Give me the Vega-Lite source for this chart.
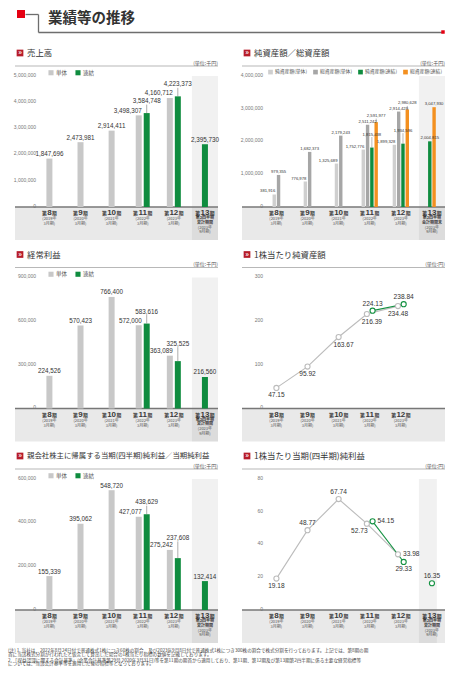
{
"$schema":"https://vega.github.io/schema/vega-lite/v6.json",
"padding":{"left":8,"top":10,"right":5,"bottom":5},
"config":{
 "font":"Noto Sans CJK JP",
 "view":{"stroke":null},
 "axisY":{"labels":false,"ticks":false,"tickSize":0,"domain":false,"grid":true,"gridColor":"#9a9a9a","gridDash":[1,1.4],"gridWidth":0.6},
 "style":{
  "ylab":{"font":"Liberation Sans","fontSize":5,"color":"#777","align":"right","baseline":"bottom","dx":-13.4,"dy":1.8},
  "vlab":{"font":"Liberation Sans","fontSize":6.3,"color":"#333","align":"center","baseline":"alphabetic"},
  "vlab2":{"font":"Liberation Sans","fontSize":4.2,"color":"#333","align":"center","baseline":"alphabetic"},
  "llab":{"font":"Liberation Sans","fontSize":6.6,"color":"#333","align":"center"},
  "pnum":{"font":"Liberation Sans","fontSize":8,"fontWeight":"bold","color":"#3a3a3a","align":"center","baseline":"alphabetic","dy":8.2},
  "pk":{"fontSize":4.8,"fontWeight":"bold","color":"#3a3a3a","baseline":"alphabetic","dy":8.2},
  "pyr":{"fontSize":4,"color":"#555","align":"center","baseline":"middle","lineHeight":4.7,"dy":12.4},
  "psub":{"fontSize":4,"fontWeight":"bold","color":"#3a3a3a","align":"center","baseline":"middle","lineHeight":4.6,"dy":11.3},
  "head":{"fontSize":8.4,"color":"#333","align":"left","baseline":"middle","dx":-22.4,"dy":-23},
  "unit":{"fontSize":5,"color":"#555","align":"right","baseline":"middle","dx":13,"dy":-13.5}
 }
},
"datasets":{
 "periods":[
  {"p":"8","yr":["(2019年","3月期)"]},
  {"p":"9","yr":["(2020年","3月期)"]},
  {"p":"10","yr":["(2021年","3月期)"]},
  {"p":"11","yr":["(2022年","3月期)"]},
  {"p":"12","yr":["(2023年","3月期)"]},
  {"p":"13","yr":["(2023年","9月期)"]}
 ]
},
"bounds":"flush","spacing":44,
"resolve":{"scale":{"x":"independent","y":"independent","color":"independent","xOffset":"independent"},"legend":{"color":"independent"}},
"vconcat":[
 {
  "width":428,"height":18,
  "data":{"values":[{}]},
  "layer":[
   {"mark":{"type":"point","shape":"square","filled":true,"color":"#e50012","size":64,"opacity":1},
    "encoding":{
     "x":{"datum":-0.042,"type":"quantitative","scale":{"domain":[0,1],"range":[23,428]},"axis":{"orient":"bottom","domain":true,"domainColor":"#6e6e6e","domainWidth":1.3,"ticks":false,"labels":false,"grid":false,"title":null}},
     "y":{"datum":1,"type":"quantitative","scale":{"domain":[0,1]},"axis":{"orient":"left","offset":-23,"values":[1],"ticks":true,"tickSize":13,"tickColor":"#6e6e6e","tickWidth":1.3,"domain":true,"domainColor":"#6e6e6e","domainWidth":1.3,"labels":false,"grid":false,"title":null}}}},
   {"mark":{"type":"point","shape":"square","filled":true,"color":"#e50012","size":12,"opacity":1},
    "encoding":{"x":{"datum":1,"type":"quantitative"},"y":{"datum":0,"type":"quantitative"}}},
   {"mark":{"type":"text","align":"left","baseline":"middle","fontSize":14.5,"fontWeight":"bold","color":"#333","dx":10},
    "encoding":{"x":{"datum":0,"type":"quantitative"},"y":{"datum":0.75,"type":"quantitative"},"text":{"value":"業績等の推移"}}}
  ]
 },
 {"columns":2,"bounds":"flush","spacing":{"row":37.5,"column":24},
  "resolve":{"scale":{"x":"independent","y":"independent","color":"independent","xOffset":"independent"},"legend":{"color":"independent"}},
  "title":{"text":["(注)\u00a01.\u00a0当社は、2022年8月24日付で普通株式1株につき60株の割合、及び2023年9月8日付で普通株式1株につき300株の割合で株式分割を行っております。上記では、第8期の期","\u3000\u3000\u3000\u00a0首に当該株式分割が行われたと仮定して算出した場合の1株当たり指標の数値を記載しております。"],
   "subtitle":["\u3000\u3000\u00a0\u00a02.\u00a0「収益認識に関する会計基準」(企業会計基準第29号 2020年3月31日)等を第11期の期首から適用しており、第11期、第12期及び第13期第2四半期に係る主要な経営指標等","\u3000\u3000\u3000\u3000については、当該会計基準等を適用した後の指標等となっております。"],
   "orient":"bottom","anchor":"start","frame":"group","offset":5,"dx":-7,"fontSize":4.6,"lineHeight":3.8,"fontWeight":"normal","color":"#444","subtitleFontSize":4.6,"subtitleLineHeight":3.8,"subtitleColor":"#444","subtitlePadding":1.2},
  "concat":[
    {
     "width":203,"height":164,
     "data":{"values":[{}]},
     "layer":[
      {"mark":{"type":"rect","color":"#e9e9e9"},"encoding":{"y":{"datum":-1259542,"type":"quantitative","scale":{"domain":[-1259542,5000000],"nice":false,"zero":false},"axis":{"values":[0,1000000,2000000,3000000,4000000,5000000],"title":null}},"y2":{"datum":0}}},
      {"mark":{"type":"rect","color":"#000","opacity":0.055},"encoding":{"x":{"datum":"13","type":"nominal","scale":{"domain":["8","9","10","11","12","13"],"paddingInner":0.16,"paddingOuter":0.343,"align":1},"axis":null},"y":{"datum":-1259542},"y2":{"datum":5000000}}},
      {"mark":{"type":"rule","color":"#777","strokeWidth":1.4},"encoding":{"y":{"datum":0}}},
      {"mark":{"type":"rule","color":"#b8b8b8","strokeWidth":1.2,"yOffset":-10},"encoding":{"y":{"datum":5000000}}},
      {"mark":{"type":"point","shape":"square","filled":true,"color":"#b71c2a","size":45,"opacity":1,"xOffset":-29.4,"yOffset":-23},"encoding":{"x":{"datum":"8","type":"nominal","axis":null},"y":{"datum":5000000}}},
      {"mark":{"type":"text","color":"white","fontSize":7,"fontWeight":"bold","dx":-29.4,"dy":-23,"baseline":"middle","align":"center"},"encoding":{"x":{"datum":"8","type":"nominal","axis":null},"y":{"datum":5000000},"text":{"value":"»"}}},
      {"mark":{"type":"text","style":"head"},"encoding":{"x":{"datum":"8","type":"nominal","axis":null},"y":{"datum":5000000},"text":{"value":"売上高"}}},
      {"mark":{"type":"text","style":"unit"},"encoding":{"x":{"datum":"13","type":"nominal","axis":null},"y":{"datum":5000000},"text":{"value":"(単位:千円)"}}},
      {"mark":{"type":"text","style":"psub"},"encoding":{"x":{"datum":"13","type":"nominal","axis":null},"y":{"datum":0},"text":{"value":["第2四半期","累計期間"]}}},
      {"data":{"values":[{"t":0},{"t":1000000},{"t":2000000},{"t":3000000},{"t":4000000},{"t":5000000}]},"mark":{"type":"text","style":"ylab"},"encoding":{"x":{"datum":"8","type":"nominal","axis":null},"y":{"field":"t","type":"quantitative","axis":null},"text":{"field":"t","format":",d"}}},
      {"data":{"name":"periods"},"layer":[
       {"mark":{"type":"text","style":"pnum"},"encoding":{"x":{"field":"p","type":"nominal","axis":null},"y":{"datum":0},"text":{"field":"p"}}},
       {"transform":[{"filter":"length(datum.p)==1"}],"mark":{"type":"text","style":"pk","align":"right","dx":-2.6},"encoding":{"x":{"field":"p","type":"nominal","axis":null},"y":{"datum":0},"text":{"value":"第"}}},
       {"transform":[{"filter":"length(datum.p)==1"}],"mark":{"type":"text","style":"pk","align":"left","dx":2.6},"encoding":{"x":{"field":"p","type":"nominal","axis":null},"y":{"datum":0},"text":{"value":"期"}}},
       {"transform":[{"filter":"length(datum.p)==2"}],"mark":{"type":"text","style":"pk","align":"right","dx":-4.8},"encoding":{"x":{"field":"p","type":"nominal","axis":null},"y":{"datum":0},"text":{"value":"第"}}},
       {"transform":[{"filter":"length(datum.p)==2"}],"mark":{"type":"text","style":"pk","align":"left","dx":4.8},"encoding":{"x":{"field":"p","type":"nominal","axis":null},"y":{"datum":0},"text":{"value":"期"}}},
       {"transform":[{"filter":"datum.p!='13'"}],"mark":{"type":"text","style":"pyr"},"encoding":{"x":{"field":"p","type":"nominal","axis":null},"y":{"datum":0},"text":{"field":"yr"}}},
       {"transform":[{"filter":"datum.p=='13'"}],"mark":{"type":"text","style":"pyr","dy":20.6},"encoding":{"x":{"field":"p","type":"nominal","axis":null},"y":{"datum":0},"text":{"field":"yr"}}}
      ]},
      {"data":{"values":[
        {"p":"8","s":"単体","v":1847696},{"p":"9","s":"単体","v":2473981},{"p":"10","s":"単体","v":2914411},
        {"p":"11","s":"単体","v":3498307},{"p":"11","s":"連結","v":3584748},
        {"p":"12","s":"単体","v":4160712},{"p":"12","s":"連結","v":4223373},
        {"p":"13","s":"連結","v":2395730}]},
       "transform":[
        {"calculate":"indexof(['単体','連結'],datum.s)","as":"o"},
        {"joinaggregate":[{"op":"count","as":"cnt"},{"op":"max","field":"v","as":"top"}],"groupby":["p"]},
        {"window":[{"op":"row_number","as":"r"}],"sort":[{"field":"o"}],"groupby":["p"]},
        {"calculate":"toString(datum.r-1-(datum.cnt-1)/2)","as":"slot"}],
       "layer":[
        {"mark":{"type":"bar","size":6},"encoding":{"x":{"field":"p","type":"nominal","axis":null},"xOffset":{"field":"slot","type":"nominal","scale":{"domain":["-1.5","-1","-0.5","0","0.5","1","1.5"],"range":[-0.94,27.06]}},"y":{"field":"v","type":"quantitative"},
          "color":{"field":"s","type":"nominal","scale":{"domain":["単体","連結"],"range":["#c8c8c8","#0f8c3f"]},"legend":{"orient":"none","legendX":33,"legendY":-6.5,"direction":"horizontal","title":null,"symbolType":"square","symbolSize":26,"symbolStrokeWidth":0,"labelFontSize":5.5,"labelColor":"#555","columnPadding":7,"labelOffset":2,"padding":0}}}},
        {"transform":[{"filter":"datum.cnt==1"}],"mark":{"type":"text","style":"vlab","dy":-2.5},"encoding":{"x":{"field":"p","type":"nominal","axis":null},"xOffset":{"field":"slot","type":"nominal"},"y":{"field":"v","type":"quantitative"},"text":{"field":"v","format":",d"}}},
        {"transform":[{"filter":"datum.cnt==2&&datum.s=='単体'"}],"mark":{"type":"text","style":"vlab","align":"right","dx":3,"dy":-2.5},"encoding":{"x":{"field":"p","type":"nominal","axis":null},"xOffset":{"field":"slot","type":"nominal"},"y":{"field":"v","type":"quantitative"},"text":{"field":"v","format":",d"}}},
        {"transform":[{"filter":"datum.cnt==2&&datum.s=='連結'"}],"mark":{"type":"rule","color":"#777","strokeWidth":0.6,"y2Offset":-8.5},"encoding":{"x":{"field":"p","type":"nominal","axis":null},"xOffset":{"field":"slot","type":"nominal"},"y":{"field":"v","type":"quantitative"},"y2":{"field":"top"}}},
        {"transform":[{"filter":"datum.cnt==2&&datum.s=='連結'"}],"mark":{"type":"text","style":"vlab","dy":-10},"encoding":{"x":{"field":"p","type":"nominal","axis":null},"xOffset":{"field":"slot","type":"nominal"},"y":{"field":"top","type":"quantitative"},"text":{"field":"v","format":",d"}}}
       ]}
     ]
    },
    {
     "width":203,"height":164,
     "data":{"values":[{}]},
     "layer":[
      {"mark":{"type":"rect","color":"#e9e9e9"},"encoding":{"y":{"datum":-1007634,"type":"quantitative","scale":{"domain":[-1007634,4000000],"nice":false,"zero":false},"axis":{"values":[0,1000000,2000000,3000000,4000000],"title":null}},"y2":{"datum":0}}},
      {"mark":{"type":"rect","color":"#000","opacity":0.055},"encoding":{"x":{"datum":"13","type":"nominal","scale":{"domain":["8","9","10","11","12","13"],"paddingInner":0.16,"paddingOuter":0.343,"align":1},"axis":null},"y":{"datum":-1007634},"y2":{"datum":4000000}}},
      {"mark":{"type":"rule","color":"#777","strokeWidth":1.4},"encoding":{"y":{"datum":0}}},
      {"mark":{"type":"rule","color":"#b8b8b8","strokeWidth":1.2,"yOffset":-10},"encoding":{"y":{"datum":4000000}}},
      {"mark":{"type":"point","shape":"square","filled":true,"color":"#b71c2a","size":45,"opacity":1,"xOffset":-29.4,"yOffset":-23},"encoding":{"x":{"datum":"8","type":"nominal","axis":null},"y":{"datum":4000000}}},
      {"mark":{"type":"text","color":"white","fontSize":7,"fontWeight":"bold","dx":-29.4,"dy":-23,"baseline":"middle","align":"center"},"encoding":{"x":{"datum":"8","type":"nominal","axis":null},"y":{"datum":4000000},"text":{"value":"»"}}},
      {"mark":{"type":"text","style":"head"},"encoding":{"x":{"datum":"8","type":"nominal","axis":null},"y":{"datum":4000000},"text":{"value":"純資産額／総資産額"}}},
      {"mark":{"type":"text","style":"unit"},"encoding":{"x":{"datum":"13","type":"nominal","axis":null},"y":{"datum":4000000},"text":{"value":"(単位:千円)"}}},
      {"mark":{"type":"text","style":"psub"},"encoding":{"x":{"datum":"13","type":"nominal","axis":null},"y":{"datum":0},"text":{"value":["第2四半期","会計期間末"]}}},
      {"data":{"values":[{"t":0},{"t":1000000},{"t":2000000},{"t":3000000},{"t":4000000}]},"mark":{"type":"text","style":"ylab"},"encoding":{"x":{"datum":"8","type":"nominal","axis":null},"y":{"field":"t","type":"quantitative","axis":null},"text":{"field":"t","format":",d"}}},
      {"data":{"name":"periods"},"layer":[
       {"mark":{"type":"text","style":"pnum"},"encoding":{"x":{"field":"p","type":"nominal","axis":null},"y":{"datum":0},"text":{"field":"p"}}},
       {"transform":[{"filter":"length(datum.p)==1"}],"mark":{"type":"text","style":"pk","align":"right","dx":-2.6},"encoding":{"x":{"field":"p","type":"nominal","axis":null},"y":{"datum":0},"text":{"value":"第"}}},
       {"transform":[{"filter":"length(datum.p)==1"}],"mark":{"type":"text","style":"pk","align":"left","dx":2.6},"encoding":{"x":{"field":"p","type":"nominal","axis":null},"y":{"datum":0},"text":{"value":"期"}}},
       {"transform":[{"filter":"length(datum.p)==2"}],"mark":{"type":"text","style":"pk","align":"right","dx":-4.8},"encoding":{"x":{"field":"p","type":"nominal","axis":null},"y":{"datum":0},"text":{"value":"第"}}},
       {"transform":[{"filter":"length(datum.p)==2"}],"mark":{"type":"text","style":"pk","align":"left","dx":4.8},"encoding":{"x":{"field":"p","type":"nominal","axis":null},"y":{"datum":0},"text":{"value":"期"}}},
       {"transform":[{"filter":"datum.p!='13'"}],"mark":{"type":"text","style":"pyr"},"encoding":{"x":{"field":"p","type":"nominal","axis":null},"y":{"datum":0},"text":{"field":"yr"}}},
       {"transform":[{"filter":"datum.p=='13'"}],"mark":{"type":"text","style":"pyr","dy":20.6},"encoding":{"x":{"field":"p","type":"nominal","axis":null},"y":{"datum":0},"text":{"field":"yr"}}}
      ]},
      {"data":{"values":[
        {"p":"8","s":"純資産額(単体)","v":381916},{"p":"8","s":"総資産額(単体)","v":979355},
        {"p":"9","s":"純資産額(単体)","v":776978},{"p":"9","s":"総資産額(単体)","v":1682373},
        {"p":"10","s":"純資産額(単体)","v":1325689},{"p":"10","s":"総資産額(単体)","v":2179243},
        {"p":"11","s":"純資産額(単体)","v":1752776},{"p":"11","s":"総資産額(単体)","v":2511242},{"p":"11","s":"純資産額(連結)","v":1815438},{"p":"11","s":"総資産額(連結)","v":2591977},
        {"p":"12","s":"純資産額(単体)","v":1899328},{"p":"12","s":"総資産額(単体)","v":2914429},{"p":"12","s":"純資産額(連結)","v":1934596},{"p":"12","s":"総資産額(連結)","v":2980628},
        {"p":"13","s":"純資産額(連結)","v":2004815},{"p":"13","s":"総資産額(連結)","v":3047930}]},
       "transform":[
        {"calculate":"indexof(['純資産額(単体)','総資産額(単体)','純資産額(連結)','総資産額(連結)'],datum.s)","as":"o"},
        {"calculate":"indexof(datum.s,'純')==0?'n':'t'","as":"kind"},
        {"joinaggregate":[{"op":"count","as":"cnt"}],"groupby":["p"]},
        {"joinaggregate":[{"op":"max","field":"v","as":"ktop"}],"groupby":["p","kind"]},
        {"window":[{"op":"row_number","as":"r"}],"sort":[{"field":"o"}],"groupby":["p"]},
        {"calculate":"toString(datum.r-1-(datum.cnt-1)/2)","as":"slot"}],
       "layer":[
        {"mark":{"type":"bar","size":3.4},"encoding":{"x":{"field":"p","type":"nominal","axis":null},"xOffset":{"field":"slot","type":"nominal","scale":{"domain":["-1.5","-1","-0.5","0","0.5","1","1.5"],"range":[5.54,20.59]}},"y":{"field":"v","type":"quantitative"},
          "color":{"field":"s","type":"nominal","scale":{"domain":["純資産額(単体)","総資産額(単体)","純資産額(連結)","総資産額(連結)"],"range":["#cfcfcf","#a6a6a6","#0f8c3f","#f39020"]},"legend":{"orient":"none","legendX":26,"legendY":-6.5,"direction":"horizontal","title":null,"symbolType":"square","symbolSize":22,"symbolStrokeWidth":0,"labelFontSize":4.8,"labelColor":"#555","columnPadding":5,"labelOffset":2,"padding":0}}}},
        {"transform":[{"filter":"datum.s=='純資産額(単体)'"}],"mark":{"type":"text","style":"vlab2","align":"right","dx":1,"dy":-2},"encoding":{"x":{"field":"p","type":"nominal","axis":null},"xOffset":{"field":"slot","type":"nominal"},"y":{"field":"v","type":"quantitative"},"text":{"field":"v","format":",d"}}},
        {"transform":[{"filter":"datum.s=='総資産額(単体)'"}],"mark":{"type":"text","style":"vlab2","dy":-2},"encoding":{"x":{"field":"p","type":"nominal","axis":null},"xOffset":{"field":"slot","type":"nominal"},"y":{"field":"v","type":"quantitative"},"text":{"field":"v","format":",d"}}},
        {"transform":[{"filter":"datum.cnt==2&&indexof(datum.s,'連結')>0"}],"mark":{"type":"text","style":"vlab2","dy":-2},"encoding":{"x":{"field":"p","type":"nominal","axis":null},"xOffset":{"field":"slot","type":"nominal"},"y":{"field":"v","type":"quantitative"},"text":{"field":"v","format":",d"}}},
        {"transform":[{"filter":"datum.cnt==4&&datum.s=='純資産額(連結)'"}],"mark":{"type":"rule","color":"#777","strokeWidth":0.5,"y2Offset":-10.5},"encoding":{"x":{"field":"p","type":"nominal","axis":null},"xOffset":{"field":"slot","type":"nominal"},"y":{"field":"v","type":"quantitative"},"y2":{"field":"ktop"}}},
        {"transform":[{"filter":"datum.cnt==4&&datum.s=='純資産額(連結)'"}],"mark":{"type":"text","style":"vlab2","dy":-12},"encoding":{"x":{"field":"p","type":"nominal","axis":null},"xOffset":{"field":"slot","type":"nominal"},"y":{"field":"ktop","type":"quantitative"},"text":{"field":"v","format":",d"}}},
        {"transform":[{"filter":"datum.cnt==4&&datum.s=='総資産額(連結)'"}],"mark":{"type":"rule","color":"#777","strokeWidth":0.5,"y2Offset":-3.5},"encoding":{"x":{"field":"p","type":"nominal","axis":null},"xOffset":{"field":"slot","type":"nominal"},"y":{"field":"v","type":"quantitative"},"y2":{"field":"ktop"}}},
        {"transform":[{"filter":"datum.cnt==4&&datum.s=='総資産額(連結)'"}],"mark":{"type":"text","style":"vlab2","dy":-5},"encoding":{"x":{"field":"p","type":"nominal","axis":null},"xOffset":{"field":"slot","type":"nominal"},"y":{"field":"ktop","type":"quantitative"},"text":{"field":"v","format":",d"}}}
       ]}
     ]
    },
    {
     "width":203,"height":164,
     "data":{"values":[{}]},
     "layer":[
      {"mark":{"type":"rect","color":"#e9e9e9"},"encoding":{"y":{"datum":-226718,"type":"quantitative","scale":{"domain":[-226718,900000],"nice":false,"zero":false},"axis":{"values":[0,300000,600000,900000],"title":null}},"y2":{"datum":0}}},
      {"mark":{"type":"rect","color":"#000","opacity":0.055},"encoding":{"x":{"datum":"13","type":"nominal","scale":{"domain":["8","9","10","11","12","13"],"paddingInner":0.16,"paddingOuter":0.343,"align":1},"axis":null},"y":{"datum":-226718},"y2":{"datum":900000}}},
      {"mark":{"type":"rule","color":"#777","strokeWidth":1.4},"encoding":{"y":{"datum":0}}},
      {"mark":{"type":"rule","color":"#b8b8b8","strokeWidth":1.2,"yOffset":-10},"encoding":{"y":{"datum":900000}}},
      {"mark":{"type":"point","shape":"square","filled":true,"color":"#b71c2a","size":45,"opacity":1,"xOffset":-29.4,"yOffset":-23},"encoding":{"x":{"datum":"8","type":"nominal","axis":null},"y":{"datum":900000}}},
      {"mark":{"type":"text","color":"white","fontSize":7,"fontWeight":"bold","dx":-29.4,"dy":-23,"baseline":"middle","align":"center"},"encoding":{"x":{"datum":"8","type":"nominal","axis":null},"y":{"datum":900000},"text":{"value":"»"}}},
      {"mark":{"type":"text","style":"head"},"encoding":{"x":{"datum":"8","type":"nominal","axis":null},"y":{"datum":900000},"text":{"value":"経常利益"}}},
      {"mark":{"type":"text","style":"unit"},"encoding":{"x":{"datum":"13","type":"nominal","axis":null},"y":{"datum":900000},"text":{"value":"(単位:千円)"}}},
      {"mark":{"type":"text","style":"psub"},"encoding":{"x":{"datum":"13","type":"nominal","axis":null},"y":{"datum":0},"text":{"value":["第2四半期","累計期間"]}}},
      {"data":{"values":[{"t":0},{"t":300000},{"t":600000},{"t":900000}]},"mark":{"type":"text","style":"ylab"},"encoding":{"x":{"datum":"8","type":"nominal","axis":null},"y":{"field":"t","type":"quantitative","axis":null},"text":{"field":"t","format":",d"}}},
      {"data":{"name":"periods"},"layer":[
       {"mark":{"type":"text","style":"pnum"},"encoding":{"x":{"field":"p","type":"nominal","axis":null},"y":{"datum":0},"text":{"field":"p"}}},
       {"transform":[{"filter":"length(datum.p)==1"}],"mark":{"type":"text","style":"pk","align":"right","dx":-2.6},"encoding":{"x":{"field":"p","type":"nominal","axis":null},"y":{"datum":0},"text":{"value":"第"}}},
       {"transform":[{"filter":"length(datum.p)==1"}],"mark":{"type":"text","style":"pk","align":"left","dx":2.6},"encoding":{"x":{"field":"p","type":"nominal","axis":null},"y":{"datum":0},"text":{"value":"期"}}},
       {"transform":[{"filter":"length(datum.p)==2"}],"mark":{"type":"text","style":"pk","align":"right","dx":-4.8},"encoding":{"x":{"field":"p","type":"nominal","axis":null},"y":{"datum":0},"text":{"value":"第"}}},
       {"transform":[{"filter":"length(datum.p)==2"}],"mark":{"type":"text","style":"pk","align":"left","dx":4.8},"encoding":{"x":{"field":"p","type":"nominal","axis":null},"y":{"datum":0},"text":{"value":"期"}}},
       {"transform":[{"filter":"datum.p!='13'"}],"mark":{"type":"text","style":"pyr"},"encoding":{"x":{"field":"p","type":"nominal","axis":null},"y":{"datum":0},"text":{"field":"yr"}}},
       {"transform":[{"filter":"datum.p=='13'"}],"mark":{"type":"text","style":"pyr","dy":20.6},"encoding":{"x":{"field":"p","type":"nominal","axis":null},"y":{"datum":0},"text":{"field":"yr"}}}
      ]},
      {"data":{"values":[
        {"p":"8","s":"単体","v":224526},{"p":"9","s":"単体","v":570423},{"p":"10","s":"単体","v":766400},
        {"p":"11","s":"単体","v":572000},{"p":"11","s":"連結","v":583616},
        {"p":"12","s":"単体","v":363089},{"p":"12","s":"連結","v":325525},
        {"p":"13","s":"連結","v":216560}]},
       "transform":[
        {"calculate":"indexof(['単体','連結'],datum.s)","as":"o"},
        {"joinaggregate":[{"op":"count","as":"cnt"},{"op":"max","field":"v","as":"top"}],"groupby":["p"]},
        {"window":[{"op":"row_number","as":"r"}],"sort":[{"field":"o"}],"groupby":["p"]},
        {"calculate":"toString(datum.r-1-(datum.cnt-1)/2)","as":"slot"}],
       "layer":[
        {"mark":{"type":"bar","size":6},"encoding":{"x":{"field":"p","type":"nominal","axis":null},"xOffset":{"field":"slot","type":"nominal","scale":{"domain":["-1.5","-1","-0.5","0","0.5","1","1.5"],"range":[-0.94,27.06]}},"y":{"field":"v","type":"quantitative"},
          "color":{"field":"s","type":"nominal","scale":{"domain":["単体","連結"],"range":["#c8c8c8","#0f8c3f"]},"legend":{"orient":"none","legendX":33,"legendY":-6.5,"direction":"horizontal","title":null,"symbolType":"square","symbolSize":26,"symbolStrokeWidth":0,"labelFontSize":5.5,"labelColor":"#555","columnPadding":7,"labelOffset":2,"padding":0}}}},
        {"transform":[{"filter":"datum.cnt==1"}],"mark":{"type":"text","style":"vlab","dy":-2.5},"encoding":{"x":{"field":"p","type":"nominal","axis":null},"xOffset":{"field":"slot","type":"nominal"},"y":{"field":"v","type":"quantitative"},"text":{"field":"v","format":",d"}}},
        {"transform":[{"filter":"datum.cnt==2&&datum.s=='単体'"}],"mark":{"type":"text","style":"vlab","align":"right","dx":3,"dy":-2.5},"encoding":{"x":{"field":"p","type":"nominal","axis":null},"xOffset":{"field":"slot","type":"nominal"},"y":{"field":"v","type":"quantitative"},"text":{"field":"v","format":",d"}}},
        {"transform":[{"filter":"datum.cnt==2&&datum.s=='連結'"}],"mark":{"type":"rule","color":"#777","strokeWidth":0.6,"y2Offset":-8.5},"encoding":{"x":{"field":"p","type":"nominal","axis":null},"xOffset":{"field":"slot","type":"nominal"},"y":{"field":"v","type":"quantitative"},"y2":{"field":"top"}}},
        {"transform":[{"filter":"datum.cnt==2&&datum.s=='連結'"}],"mark":{"type":"text","style":"vlab","dy":-10},"encoding":{"x":{"field":"p","type":"nominal","axis":null},"xOffset":{"field":"slot","type":"nominal"},"y":{"field":"top","type":"quantitative"},"text":{"field":"v","format":",d"}}}
       ]}
     ]
    },
    {
     "width":203,"height":164,
     "data":{"values":[{}]},
     "layer":[
      {"mark":{"type":"rect","color":"#e9e9e9"},"encoding":{"y":{"datum":-75.57,"type":"quantitative","scale":{"domain":[-75.57,300],"nice":false,"zero":false},"axis":{"values":[0,100,200,300],"title":null}},"y2":{"datum":0}}},
      {"mark":{"type":"rule","color":"#777","strokeWidth":1.4},"encoding":{"y":{"datum":0}}},
      {"mark":{"type":"rule","color":"#b8b8b8","strokeWidth":1.2,"yOffset":-10},"encoding":{"y":{"datum":300}}},
      {"mark":{"type":"point","shape":"square","filled":true,"color":"#b71c2a","size":45,"opacity":1,"xOffset":-29.4,"yOffset":-23},"encoding":{"x":{"datum":"8","type":"nominal","scale":{"domain":["8","9","10","11","12","13"],"paddingInner":0.16,"paddingOuter":0.343,"align":1},"axis":null},"y":{"datum":300}}},
      {"mark":{"type":"text","color":"white","fontSize":7,"fontWeight":"bold","dx":-29.4,"dy":-23,"baseline":"middle","align":"center"},"encoding":{"x":{"datum":"8","type":"nominal","axis":null},"y":{"datum":300},"text":{"value":"»"}}},
      {"mark":{"type":"text","style":"head"},"encoding":{"x":{"datum":"8","type":"nominal","axis":null},"y":{"datum":300},"text":{"value":"1株当たり純資産額"}}},
      {"mark":{"type":"text","style":"unit"},"encoding":{"x":{"datum":"13","type":"nominal","axis":null},"y":{"datum":300},"text":{"value":"(単位:円)"}}},
      {"data":{"values":[{"t":0},{"t":100},{"t":200},{"t":300}]},"mark":{"type":"text","style":"ylab"},"encoding":{"x":{"datum":"8","type":"nominal","axis":null},"y":{"field":"t","type":"quantitative","axis":null},"text":{"field":"t","format":"d"}}},
      {"data":{"name":"periods"},"transform":[{"filter":"datum.p!='13'"}],"layer":[
       {"mark":{"type":"text","style":"pnum"},"encoding":{"x":{"field":"p","type":"nominal","axis":null},"y":{"datum":0},"text":{"field":"p"}}},
       {"transform":[{"filter":"length(datum.p)==1"}],"mark":{"type":"text","style":"pk","align":"right","dx":-2.6},"encoding":{"x":{"field":"p","type":"nominal","axis":null},"y":{"datum":0},"text":{"value":"第"}}},
       {"transform":[{"filter":"length(datum.p)==1"}],"mark":{"type":"text","style":"pk","align":"left","dx":2.6},"encoding":{"x":{"field":"p","type":"nominal","axis":null},"y":{"datum":0},"text":{"value":"期"}}},
       {"transform":[{"filter":"length(datum.p)==2"}],"mark":{"type":"text","style":"pk","align":"right","dx":-4.8},"encoding":{"x":{"field":"p","type":"nominal","axis":null},"y":{"datum":0},"text":{"value":"第"}}},
       {"transform":[{"filter":"length(datum.p)==2"}],"mark":{"type":"text","style":"pk","align":"left","dx":4.8},"encoding":{"x":{"field":"p","type":"nominal","axis":null},"y":{"datum":0},"text":{"value":"期"}}},
       {"mark":{"type":"text","style":"pyr"},"encoding":{"x":{"field":"p","type":"nominal","axis":null},"y":{"datum":0},"text":{"field":"yr"}}}
      ]},
      {"data":{"values":[
        {"p":"8","s":"単体","v":47.15},{"p":"9","s":"単体","v":95.92},{"p":"10","s":"単体","v":163.67},
        {"p":"11","s":"単体","v":216.39},{"p":"12","s":"単体","v":234.48},
        {"p":"11","s":"連結","v":224.13},{"p":"12","s":"連結","v":238.84}]},
       "transform":[
        {"calculate":"indexof(['単体','連結'],datum.s)","as":"o"},
        {"calculate":"toNumber(datum.p)","as":"k"},
        {"joinaggregate":[{"op":"count","as":"cnt"}],"groupby":["p"]},
        {"window":[{"op":"row_number","as":"r"}],"sort":[{"field":"o"}],"groupby":["p"]},
        {"calculate":"toString(datum.r-1-(datum.cnt-1)/2)","as":"slot"}],
       "layer":[
        {"mark":{"type":"line","strokeWidth":1.1},"encoding":{"x":{"field":"p","type":"nominal","axis":null},"xOffset":{"field":"slot","type":"nominal","scale":{"domain":["-1.5","-1","-0.5","0","0.5","1","1.5"],"range":[3.09,23.04]}},"y":{"field":"v","type":"quantitative"},"order":{"field":"k","type":"quantitative"},
          "color":{"field":"s","type":"nominal","scale":{"domain":["単体","連結"],"range":["#bcbcbc","#139141"]},"legend":null}}},
        {"mark":{"type":"point","filled":false,"fill":"white","size":26,"strokeWidth":1.1,"opacity":1},"encoding":{"x":{"field":"p","type":"nominal","axis":null},"xOffset":{"field":"slot","type":"nominal"},"y":{"field":"v","type":"quantitative"},
          "color":{"field":"s","type":"nominal","legend":{"orient":"none","legendX":25,"legendY":-8,"direction":"horizontal","title":null,"symbolType":"M-1,0H-0.4M0.4,0H1M-0.4,0A0.4,0.4 0 1,1 0.4,0A0.4,0.4 0 1,1 -0.4,0","symbolSize":100,"symbolStrokeWidth":1,"symbolFillColor":"white","labelFontSize":5.5,"labelColor":"#555","columnPadding":8,"labelOffset":2,"padding":0}}}},
        {"transform":[{"filter":"datum.s=='単体'&&(datum.p=='8'||datum.p=='9'||datum.p=='12')"}],"mark":{"type":"text","style":"llab","baseline":"top","dy":4.5},"encoding":{"x":{"field":"p","type":"nominal","axis":null},"xOffset":{"field":"slot","type":"nominal"},"y":{"field":"v","type":"quantitative"},"text":{"field":"v","format":".2f"}}},
        {"transform":[{"filter":"datum.s=='単体'&&(datum.p=='10'||datum.p=='11')"}],"mark":{"type":"text","style":"llab","baseline":"top","dy":4.5,"dx":5},"encoding":{"x":{"field":"p","type":"nominal","axis":null},"xOffset":{"field":"slot","type":"nominal"},"y":{"field":"v","type":"quantitative"},"text":{"field":"v","format":".2f"}}},
        {"transform":[{"filter":"datum.s=='連結'"}],"mark":{"type":"text","style":"llab","baseline":"alphabetic","dy":-5},"encoding":{"x":{"field":"p","type":"nominal","axis":null},"xOffset":{"field":"slot","type":"nominal"},"y":{"field":"v","type":"quantitative"},"text":{"field":"v","format":".2f"}}}
       ]}
     ]
    },
    {
     "width":203,"height":164,
     "data":{"values":[{}]},
     "layer":[
      {"mark":{"type":"rect","color":"#e9e9e9"},"encoding":{"y":{"datum":-151145,"type":"quantitative","scale":{"domain":[-151145,600000],"nice":false,"zero":false},"axis":{"values":[0,200000,400000,600000],"title":null}},"y2":{"datum":0}}},
      {"mark":{"type":"rect","color":"#000","opacity":0.055},"encoding":{"x":{"datum":"13","type":"nominal","scale":{"domain":["8","9","10","11","12","13"],"paddingInner":0.16,"paddingOuter":0.343,"align":1},"axis":null},"y":{"datum":-151145},"y2":{"datum":600000}}},
      {"mark":{"type":"rule","color":"#777","strokeWidth":1.4},"encoding":{"y":{"datum":0}}},
      {"mark":{"type":"rule","color":"#b8b8b8","strokeWidth":1.2,"yOffset":-10},"encoding":{"y":{"datum":600000}}},
      {"mark":{"type":"point","shape":"square","filled":true,"color":"#b71c2a","size":45,"opacity":1,"xOffset":-29.4,"yOffset":-23},"encoding":{"x":{"datum":"8","type":"nominal","axis":null},"y":{"datum":600000}}},
      {"mark":{"type":"text","color":"white","fontSize":7,"fontWeight":"bold","dx":-29.4,"dy":-23,"baseline":"middle","align":"center"},"encoding":{"x":{"datum":"8","type":"nominal","axis":null},"y":{"datum":600000},"text":{"value":"»"}}},
      {"mark":{"type":"text","style":"head","fontSize":7.4},"encoding":{"x":{"datum":"8","type":"nominal","axis":null},"y":{"datum":600000},"text":{"value":"親会社株主に帰属する当期(四半期)純利益／当期純利益"}}},
      {"mark":{"type":"text","style":"unit"},"encoding":{"x":{"datum":"13","type":"nominal","axis":null},"y":{"datum":600000},"text":{"value":"(単位:千円)"}}},
      {"mark":{"type":"text","style":"psub"},"encoding":{"x":{"datum":"13","type":"nominal","axis":null},"y":{"datum":0},"text":{"value":["第2四半期","累計期間"]}}},
      {"data":{"values":[{"t":0},{"t":200000},{"t":400000},{"t":600000}]},"mark":{"type":"text","style":"ylab"},"encoding":{"x":{"datum":"8","type":"nominal","axis":null},"y":{"field":"t","type":"quantitative","axis":null},"text":{"field":"t","format":",d"}}},
      {"data":{"name":"periods"},"layer":[
       {"mark":{"type":"text","style":"pnum"},"encoding":{"x":{"field":"p","type":"nominal","axis":null},"y":{"datum":0},"text":{"field":"p"}}},
       {"transform":[{"filter":"length(datum.p)==1"}],"mark":{"type":"text","style":"pk","align":"right","dx":-2.6},"encoding":{"x":{"field":"p","type":"nominal","axis":null},"y":{"datum":0},"text":{"value":"第"}}},
       {"transform":[{"filter":"length(datum.p)==1"}],"mark":{"type":"text","style":"pk","align":"left","dx":2.6},"encoding":{"x":{"field":"p","type":"nominal","axis":null},"y":{"datum":0},"text":{"value":"期"}}},
       {"transform":[{"filter":"length(datum.p)==2"}],"mark":{"type":"text","style":"pk","align":"right","dx":-4.8},"encoding":{"x":{"field":"p","type":"nominal","axis":null},"y":{"datum":0},"text":{"value":"第"}}},
       {"transform":[{"filter":"length(datum.p)==2"}],"mark":{"type":"text","style":"pk","align":"left","dx":4.8},"encoding":{"x":{"field":"p","type":"nominal","axis":null},"y":{"datum":0},"text":{"value":"期"}}},
       {"transform":[{"filter":"datum.p!='13'"}],"mark":{"type":"text","style":"pyr"},"encoding":{"x":{"field":"p","type":"nominal","axis":null},"y":{"datum":0},"text":{"field":"yr"}}},
       {"transform":[{"filter":"datum.p=='13'"}],"mark":{"type":"text","style":"pyr","dy":20.6},"encoding":{"x":{"field":"p","type":"nominal","axis":null},"y":{"datum":0},"text":{"field":"yr"}}}
      ]},
      {"data":{"values":[
        {"p":"8","s":"単体","v":155339},{"p":"9","s":"単体","v":395062},{"p":"10","s":"単体","v":548720},
        {"p":"11","s":"単体","v":427077},{"p":"11","s":"連結","v":438629},
        {"p":"12","s":"単体","v":275242},{"p":"12","s":"連結","v":237608},
        {"p":"13","s":"連結","v":132414}]},
       "transform":[
        {"calculate":"indexof(['単体','連結'],datum.s)","as":"o"},
        {"joinaggregate":[{"op":"count","as":"cnt"},{"op":"max","field":"v","as":"top"}],"groupby":["p"]},
        {"window":[{"op":"row_number","as":"r"}],"sort":[{"field":"o"}],"groupby":["p"]},
        {"calculate":"toString(datum.r-1-(datum.cnt-1)/2)","as":"slot"}],
       "layer":[
        {"mark":{"type":"bar","size":6},"encoding":{"x":{"field":"p","type":"nominal","axis":null},"xOffset":{"field":"slot","type":"nominal","scale":{"domain":["-1.5","-1","-0.5","0","0.5","1","1.5"],"range":[-0.94,27.06]}},"y":{"field":"v","type":"quantitative"},
          "color":{"field":"s","type":"nominal","scale":{"domain":["単体","連結"],"range":["#c8c8c8","#0f8c3f"]},"legend":{"orient":"none","legendX":33,"legendY":-6.5,"direction":"horizontal","title":null,"symbolType":"square","symbolSize":26,"symbolStrokeWidth":0,"labelFontSize":5.5,"labelColor":"#555","columnPadding":7,"labelOffset":2,"padding":0}}}},
        {"transform":[{"filter":"datum.cnt==1"}],"mark":{"type":"text","style":"vlab","dy":-2.5},"encoding":{"x":{"field":"p","type":"nominal","axis":null},"xOffset":{"field":"slot","type":"nominal"},"y":{"field":"v","type":"quantitative"},"text":{"field":"v","format":",d"}}},
        {"transform":[{"filter":"datum.cnt==2&&datum.s=='単体'"}],"mark":{"type":"text","style":"vlab","align":"right","dx":3,"dy":-2.5},"encoding":{"x":{"field":"p","type":"nominal","axis":null},"xOffset":{"field":"slot","type":"nominal"},"y":{"field":"v","type":"quantitative"},"text":{"field":"v","format":",d"}}},
        {"transform":[{"filter":"datum.cnt==2&&datum.s=='連結'"}],"mark":{"type":"rule","color":"#777","strokeWidth":0.6,"y2Offset":-8.5},"encoding":{"x":{"field":"p","type":"nominal","axis":null},"xOffset":{"field":"slot","type":"nominal"},"y":{"field":"v","type":"quantitative"},"y2":{"field":"top"}}},
        {"transform":[{"filter":"datum.cnt==2&&datum.s=='連結'"}],"mark":{"type":"text","style":"vlab","dy":-10},"encoding":{"x":{"field":"p","type":"nominal","axis":null},"xOffset":{"field":"slot","type":"nominal"},"y":{"field":"top","type":"quantitative"},"text":{"field":"v","format":",d"}}}
       ]}
     ]
    },
    {
     "width":203,"height":164,
     "data":{"values":[{}]},
     "layer":[
      {"mark":{"type":"rect","color":"#e9e9e9"},"encoding":{"y":{"datum":-20.15,"type":"quantitative","scale":{"domain":[-20.15,80],"nice":false,"zero":false},"axis":{"values":[0,20,40,60,80],"title":null}},"y2":{"datum":0}}},
      {"mark":{"type":"rect","color":"#000","opacity":0.055},"encoding":{"x":{"datum":"13","type":"nominal","scale":{"domain":["8","9","10","11","12","13"],"paddingInner":0.16,"paddingOuter":0.343,"align":1},"axis":null},"y":{"datum":-20.15},"y2":{"datum":80}}},
      {"mark":{"type":"rule","color":"#777","strokeWidth":1.4},"encoding":{"y":{"datum":0}}},
      {"mark":{"type":"rule","color":"#b8b8b8","strokeWidth":1.2,"yOffset":-10},"encoding":{"y":{"datum":80}}},
      {"mark":{"type":"point","shape":"square","filled":true,"color":"#b71c2a","size":45,"opacity":1,"xOffset":-29.4,"yOffset":-23},"encoding":{"x":{"datum":"8","type":"nominal","axis":null},"y":{"datum":80}}},
      {"mark":{"type":"text","color":"white","fontSize":7,"fontWeight":"bold","dx":-29.4,"dy":-23,"baseline":"middle","align":"center"},"encoding":{"x":{"datum":"8","type":"nominal","axis":null},"y":{"datum":80},"text":{"value":"»"}}},
      {"mark":{"type":"text","style":"head"},"encoding":{"x":{"datum":"8","type":"nominal","axis":null},"y":{"datum":80},"text":{"value":"1株当たり当期(四半期)純利益"}}},
      {"mark":{"type":"text","style":"unit"},"encoding":{"x":{"datum":"13","type":"nominal","axis":null},"y":{"datum":80},"text":{"value":"(単位:円)"}}},
      {"mark":{"type":"text","style":"psub"},"encoding":{"x":{"datum":"13","type":"nominal","axis":null},"y":{"datum":0},"text":{"value":["第2四半期","累計期間"]}}},
      {"data":{"values":[{"t":0},{"t":20},{"t":40},{"t":60},{"t":80}]},"mark":{"type":"text","style":"ylab"},"encoding":{"x":{"datum":"8","type":"nominal","axis":null},"y":{"field":"t","type":"quantitative","axis":null},"text":{"field":"t","format":"d"}}},
      {"data":{"name":"periods"},"layer":[
       {"mark":{"type":"text","style":"pnum"},"encoding":{"x":{"field":"p","type":"nominal","axis":null},"y":{"datum":0},"text":{"field":"p"}}},
       {"transform":[{"filter":"length(datum.p)==1"}],"mark":{"type":"text","style":"pk","align":"right","dx":-2.6},"encoding":{"x":{"field":"p","type":"nominal","axis":null},"y":{"datum":0},"text":{"value":"第"}}},
       {"transform":[{"filter":"length(datum.p)==1"}],"mark":{"type":"text","style":"pk","align":"left","dx":2.6},"encoding":{"x":{"field":"p","type":"nominal","axis":null},"y":{"datum":0},"text":{"value":"期"}}},
       {"transform":[{"filter":"length(datum.p)==2"}],"mark":{"type":"text","style":"pk","align":"right","dx":-4.8},"encoding":{"x":{"field":"p","type":"nominal","axis":null},"y":{"datum":0},"text":{"value":"第"}}},
       {"transform":[{"filter":"length(datum.p)==2"}],"mark":{"type":"text","style":"pk","align":"left","dx":4.8},"encoding":{"x":{"field":"p","type":"nominal","axis":null},"y":{"datum":0},"text":{"value":"期"}}},
       {"transform":[{"filter":"datum.p!='13'"}],"mark":{"type":"text","style":"pyr"},"encoding":{"x":{"field":"p","type":"nominal","axis":null},"y":{"datum":0},"text":{"field":"yr"}}},
       {"transform":[{"filter":"datum.p=='13'"}],"mark":{"type":"text","style":"pyr","dy":20.6},"encoding":{"x":{"field":"p","type":"nominal","axis":null},"y":{"datum":0},"text":{"field":"yr"}}}
      ]},
      {"data":{"values":[
        {"p":"8","s":"単体","v":19.18},{"p":"9","s":"単体","v":48.77},{"p":"10","s":"単体","v":67.74},
        {"p":"11","s":"単体","v":52.73},{"p":"12","s":"単体","v":33.98},
        {"p":"11","s":"連結","v":54.15},{"p":"12","s":"連結","v":29.33},{"p":"13","s":"連結","v":16.35}]},
       "transform":[
        {"calculate":"indexof(['単体','連結'],datum.s)","as":"o"},
        {"calculate":"toNumber(datum.p)","as":"k"},
        {"joinaggregate":[{"op":"count","as":"cnt"}],"groupby":["p"]},
        {"window":[{"op":"row_number","as":"r"}],"sort":[{"field":"o"}],"groupby":["p"]},
        {"calculate":"toString(datum.r-1-(datum.cnt-1)/2)","as":"slot"}],
       "layer":[
        {"transform":[{"filter":"datum.p!='13'"}],"mark":{"type":"line","strokeWidth":1.1},"encoding":{"x":{"field":"p","type":"nominal","axis":null},"xOffset":{"field":"slot","type":"nominal","scale":{"domain":["-1.5","-1","-0.5","0","0.5","1","1.5"],"range":[3.09,23.04]}},"y":{"field":"v","type":"quantitative"},"order":{"field":"k","type":"quantitative"},
          "color":{"field":"s","type":"nominal","scale":{"domain":["単体","連結"],"range":["#bcbcbc","#139141"]},"legend":null}}},
        {"mark":{"type":"point","filled":false,"fill":"white","size":26,"strokeWidth":1.1,"opacity":1},"encoding":{"x":{"field":"p","type":"nominal","axis":null},"xOffset":{"field":"slot","type":"nominal"},"y":{"field":"v","type":"quantitative"},
          "color":{"field":"s","type":"nominal","legend":{"orient":"none","legendX":25,"legendY":-8,"direction":"horizontal","title":null,"symbolType":"M-1,0H-0.4M0.4,0H1M-0.4,0A0.4,0.4 0 1,1 0.4,0A0.4,0.4 0 1,1 -0.4,0","symbolSize":100,"symbolStrokeWidth":1,"symbolFillColor":"white","labelFontSize":5.5,"labelColor":"#555","columnPadding":8,"labelOffset":2,"padding":0}}}},
        {"transform":[{"filter":"(datum.s=='単体'&&(datum.p=='9'||datum.p=='10'))||(datum.s=='連結'&&datum.p=='13')"}],"mark":{"type":"text","style":"llab","baseline":"alphabetic","dy":-5},"encoding":{"x":{"field":"p","type":"nominal","axis":null},"xOffset":{"field":"slot","type":"nominal"},"y":{"field":"v","type":"quantitative"},"text":{"field":"v","format":".2f"}}},
        {"transform":[{"filter":"(datum.s=='単体'&&datum.p=='8')||(datum.s=='連結'&&datum.p=='12')"}],"mark":{"type":"text","style":"llab","baseline":"top","dy":4.5},"encoding":{"x":{"field":"p","type":"nominal","axis":null},"xOffset":{"field":"slot","type":"nominal"},"y":{"field":"v","type":"quantitative"},"text":{"field":"v","format":".2f"}}},
        {"transform":[{"filter":"datum.s=='単体'&&datum.p=='11'"}],"mark":{"type":"text","style":"llab","baseline":"top","dy":4.5,"dx":-7.5},"encoding":{"x":{"field":"p","type":"nominal","axis":null},"xOffset":{"field":"slot","type":"nominal"},"y":{"field":"v","type":"quantitative"},"text":{"field":"v","format":".2f"}}},
        {"transform":[{"filter":"(datum.s=='単体'&&datum.p=='12')||(datum.s=='連結'&&datum.p=='11')"}],"mark":{"type":"text","style":"llab","align":"left","baseline":"middle","dx":5},"encoding":{"x":{"field":"p","type":"nominal","axis":null},"xOffset":{"field":"slot","type":"nominal"},"y":{"field":"v","type":"quantitative"},"text":{"field":"v","format":".2f"}}}
       ]}
     ]
    }
  ]}
]
}
